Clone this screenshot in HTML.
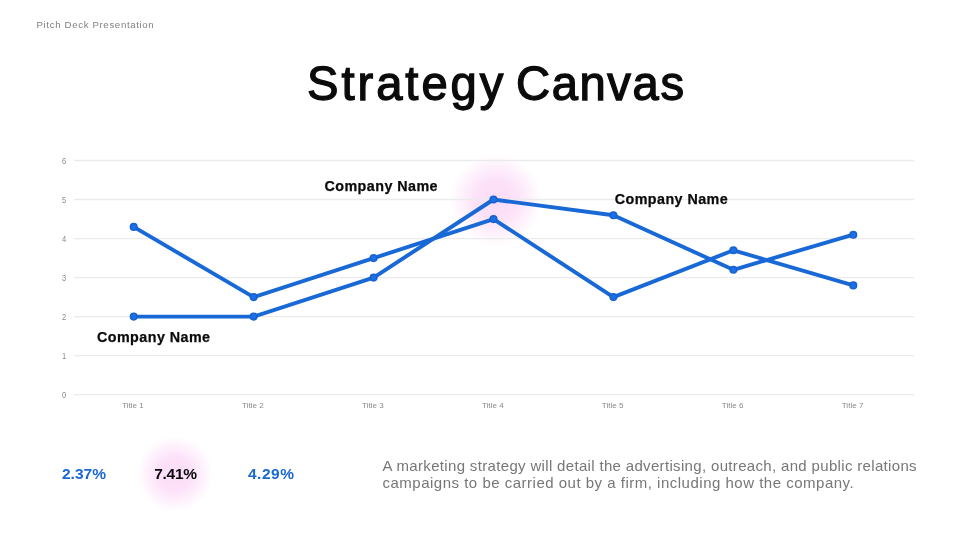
<!DOCTYPE html>
<html lang="en">
<head>
<meta charset="utf-8">
<title>Strategy Canvas</title>
<style>
  html,body{margin:0;padding:0;background:#fff;}
  body{width:980px;height:551px;position:relative;overflow:hidden;font-family:"Liberation Sans",sans-serif;}
  .abs{position:absolute;white-space:nowrap;line-height:1;}
  #hdr{left:36.5px;top:20.2px;font-size:9.7px;color:#808080;letter-spacing:0.63px;}
  .tw{top:60.2px;font-size:47.2px;color:#0b0b0b;-webkit-text-stroke:1.3px #0b0b0b;}
  #t1{left:307px;letter-spacing:2.95px;}
  #t2{left:516px;letter-spacing:1.6px;}
  .glow{position:absolute;border-radius:50%;}
  #g1{left:450px;top:154px;width:92px;height:92px;background:radial-gradient(circle closest-side,#fbdbf7 0%,#fce2f9 45%,#fef0fc 72%,#ffffff 100%);}
  #g2{left:137px;top:436px;width:76px;height:76px;background:radial-gradient(circle closest-side,#fbdbf7 0%,#fce2f9 45%,#fef0fc 72%,#ffffff 100%);}
  svg{position:absolute;left:0;top:0;}
  .cn{font-weight:bold;font-size:14.3px;color:#0b0b0b;letter-spacing:0.45px;-webkit-text-stroke:0.25px #0b0b0b;}
  .pct{font-weight:bold;font-size:15.5px;color:#1968d4;}
  #para{position:absolute;left:382.5px;top:457.2px;width:580px;white-space:nowrap;font-size:15px;line-height:17px;color:#777777;letter-spacing:0.333px;}
</style>
</head>
<body>
<div class="glow" id="g1"></div>
<div class="glow" id="g2"></div>
<div class="abs" id="hdr">Pitch Deck Presentation</div>
<div class="abs tw" id="t1">Strategy</div><div class="abs tw" id="t2">Canvas</div>

<svg width="980" height="551" viewBox="0 0 980 551">
  <g stroke="#ebebeb" stroke-width="1.3" fill="none">
    <line x1="74" y1="160.5" x2="914" y2="160.5"/>
    <line x1="74" y1="199.5" x2="914" y2="199.5"/>
    <line x1="74" y1="238.6" x2="914" y2="238.6"/>
    <line x1="74" y1="277.6" x2="914" y2="277.6"/>
    <line x1="74" y1="316.6" x2="914" y2="316.6"/>
    <line x1="74" y1="355.7" x2="914" y2="355.7"/>
    <line x1="74" y1="394.7" x2="914" y2="394.7"/>
  </g>
  <g font-family="Liberation Sans, sans-serif" font-size="9.200" fill="#8a8a8a" text-anchor="middle">
    <text x="64.2" y="163.6" textLength="4.2" lengthAdjust="spacingAndGlyphs">6</text>
    <text x="64.2" y="202.6" textLength="4.2" lengthAdjust="spacingAndGlyphs">5</text>
    <text x="64.2" y="241.7" textLength="4.2" lengthAdjust="spacingAndGlyphs">4</text>
    <text x="64.2" y="280.7" textLength="4.2" lengthAdjust="spacingAndGlyphs">3</text>
    <text x="64.2" y="319.7" textLength="4.2" lengthAdjust="spacingAndGlyphs">2</text>
    <text x="64.2" y="358.8" textLength="4.2" lengthAdjust="spacingAndGlyphs">1</text>
    <text x="64.2" y="397.8" textLength="4.2" lengthAdjust="spacingAndGlyphs">0</text>
  </g>
  <g font-family="Liberation Sans, sans-serif" font-size="8.100" fill="#8a8a8a" text-anchor="middle">
    <text x="133.0" y="408.4">Title 1</text>
    <text x="252.9" y="408.4">Title 2</text>
    <text x="372.9" y="408.4">Title 3</text>
    <text x="492.8" y="408.4">Title 4</text>
    <text x="612.7" y="408.4">Title 5</text>
    <text x="732.7" y="408.4">Title 6</text>
    <text x="852.6" y="408.4">Title 7</text>
  </g>
  <g fill="none" stroke="#1868d6" stroke-width="3.900" stroke-linejoin="round" stroke-linecap="round">
    <polyline points="133.7,226.9 253.6,297.1 373.6,258.1 493.5,219.1 613.4,297.1 733.4,250.3 853.3,285.4"/>
    <polyline points="133.7,316.6 253.6,316.6 373.6,277.6 493.5,199.5 613.4,215.2 733.4,269.8 853.3,234.7"/>
  </g>
  <g fill="#1b6fe8" stroke="#1762cc" stroke-width="1.500">
    <circle cx="133.7" cy="226.9" r="3.3"/><circle cx="253.6" cy="297.1" r="3.3"/><circle cx="373.6" cy="258.1" r="3.3"/><circle cx="493.5" cy="219.1" r="3.3"/><circle cx="613.4" cy="297.1" r="3.3"/><circle cx="733.4" cy="250.3" r="3.3"/><circle cx="853.3" cy="285.4" r="3.3"/>
    <circle cx="133.7" cy="316.6" r="3.3"/><circle cx="253.6" cy="316.6" r="3.3"/><circle cx="373.6" cy="277.6" r="3.3"/><circle cx="493.5" cy="199.5" r="3.3"/><circle cx="613.4" cy="215.2" r="3.3"/><circle cx="733.4" cy="269.8" r="3.3"/><circle cx="853.3" cy="234.7" r="3.3"/>
  </g>
</svg>

<div class="abs cn" id="cn1" style="left:324.5px;top:178.8px;">Company Name</div>
<div class="abs cn" id="cn2" style="left:614.7px;top:191.500px;">Company Name</div>
<div class="abs cn" id="cn3" style="left:97px;top:329.8px;">Company Name</div>

<div class="abs pct" id="p1" style="left:62px;top:465.500px;">2.37%</div>
<div class="abs pct" id="p2" style="left:154.200px;top:465.500px;color:#0b0b0b;letter-spacing:-0.25px;">7.41%</div>
<div class="abs pct" id="p3" style="left:248px;top:465.500px;letter-spacing:0.5px;">4.29%</div>

<div id="para"><span id="l1">A marketing strategy will detail the advertising, outreach, and public relations</span><br><span id="l2" style="letter-spacing:0.5px;">campaigns to be carried out by a firm, including how the company.</span></div>
</body>
</html>
